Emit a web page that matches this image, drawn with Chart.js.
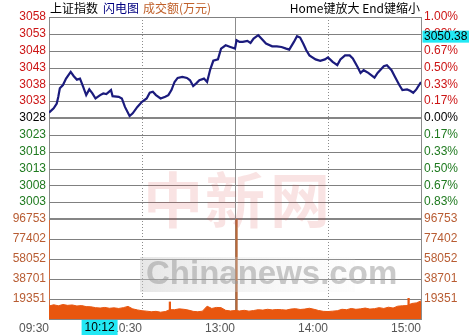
<!DOCTYPE html>
<html>
<head>
<meta charset="utf-8">
<script src="https://cdn.jsdelivr.net/npm/chart.js@4/dist/chart.umd.min.js"></script>
<style>
body{margin:0;background:#fff;}
canvas{display:block;}
</style>
</head>
<body>
<canvas id="myChart" width="469" height="335"></canvas>
<script>
// minutes since 09:30 (120 = 11:30/13:00, 240 = 15:00)
var priceTimes = [
  0,3,5,6,7,9,11,14,16,18,
  20,22,24,26,28,30,33,35,37,40,
  41,45,47,49,52,54,57,60,63,65,
  67,69,72,75,77,79,81,83,86,89,
  91,93,95,97,100,102,104,106,109,111,
  114,117,120,121,123,125,128,130,132,135,
  137,140,144,147,150,153,155,158,160,162,
  164,166,168,172,175,178,180,183,186,188,
  191,194,196,199,201,203,206,210,212,216,
  218,221,223,226,228,231,233,235,237,240
];
var priceValues = [
  3029.6,3030.9,3032.3,3034.3,3036.8,3037.8,3039.7,3041.7,3040.4,3039.4,
  3039.7,3037.3,3034.8,3036.5,3035.3,3033.8,3034.8,3035.3,3035.1,3036.3,
  3034.5,3034.3,3033.8,3031.3,3028.6,3029.4,3031.3,3032.8,3033.8,3035.5,
  3035.8,3034.8,3033.8,3034.3,3034.8,3036.3,3038.7,3039.9,3040.2,3039.9,
  3039.2,3037.5,3038.3,3039.2,3039.7,3038.7,3042.4,3045.0,3045.4,3048.6,
  3049.6,3049.1,3048.6,3051.1,3050.6,3050.6,3050.9,3050.3,3051.6,3052.6,
  3051.6,3050.1,3049.3,3049.3,3049.1,3048.6,3048.3,3050.6,3052.3,3051.9,
  3050.1,3048.1,3046.6,3045.4,3045.0,3045.4,3046.0,3044.7,3043.7,3045.4,
  3046.6,3046.6,3045.7,3043.2,3041.4,3042.2,3041.4,3040.0,3041.4,3043.4,
  3043.7,3042.2,3040.4,3037.8,3036.3,3036.5,3036.1,3035.5,3036.5,3038.7
];

// volume (万元), one value every 3 minutes
var volStep = 3;
var volValues = [
  12500,13800,12800,14000,13200,13600,12600,13000,12000,11800,
  11000,10600,11200,10400,10800,10200,11000,12200,9800,8800,
  8000,7600,7000,7400,6600,7200,9000,9000,9800,9400,
  8600,7400,7000,7600,12400,10200,11200,11000,8400,7800,
  8200,7800,8400,7600,8200,9000,8600,9400,8800,9200,
  9000,8600,9600,10000,9200,9600,10400,9400,8200,7400,
  7200,7600,8000,9400,9000,10200,9400,9800,10600,9600,
  10000,11000,10200,11400,10600,12400,12800,13000,15000,15600,
  17500
];
var spikeTimes = [78, 121, 232];
var spikeValues = [16500, 96753, 20000];

var timeTicks = [0, 60, 120, 180, 240];
var timeLabels = ['09:30', '10:30', '13:00', '14:00', '15:00'];
var priceTicks = [3058,3053,3048,3043,3038,3033,3028,3023,3018,3013,3008,3003,2998];
var priceLabels = ['3058','3053','3048','3043','3038','3033','3028','3023','3018','3013','3008','3003',''];
var pctLabels = ['1.00%','0.83%','0.67%','0.50%','0.33%','0.17%','0.00%','0.17%','0.33%','0.50%','0.67%','0.83%',''];
var volTicks = [96753,77402,58052,38701,19351,0];
var volLabels = ['96753','77402','58052','38701','19351',''];
var prevClose = 3028;
var cursorTime = 42, cursorLabel = '10:12';
var lastPrice = 3050.38;

var ctx = document.getElementById('myChart').getContext('2d');
var font = {family: 'Liberation Sans, Arial, sans-serif', size: 12};
var gridGray = '#8c8c8c';
var volColor = '#e8560f';

function setTicks(values){
    return function(scale){ scale.ticks = values.map(function(v){ return {value: v}; }); };
}
function fixWidth(w){
    return function(scale){ scale.width = w; };
}
function priceColor(c){
    var v = c.tick.value;
    if (v > prevClose) return '#cc1414';
    if (v == prevClose) return '#000000';
    return '#1f7a1f';
}

var priceData = priceTimes.map(function(t, i){ return {x: t, y: priceValues[i]}; });
var volData = volValues.map(function(v, i){ return {x: i * volStep, y: v}; });
var spikeData = spikeTimes.map(function(t, i){ return {x: t, y: spikeValues[i]}; });

var decor = {
    id: 'decor',
    beforeDatasetsDraw: function(chart){
        var c = chart.ctx, a = chart.chartArea, x = chart.scales.x;
        var y = chart.scales.y, yv = chart.scales.yv;
        var w = a.right - a.left;
        c.save();
        c.setLineDash([]);
        // horizontal grid from the price and volume scales
        c.fillStyle = '#808080';
        for (var i = 0; i < priceTicks.length; i++) {
            c.fillRect(a.left, Math.round(y.getPixelForValue(priceTicks[i])), w, 1);
        }
        for (var j = 0; j < volTicks.length; j++) {
            c.fillRect(a.left, Math.round(yv.getPixelForValue(volTicks[j])), w, 1);
        }
        c.strokeStyle = gridGray;
        c.lineWidth = 1;
        [60, 180].forEach(function(t){
            var px = Math.round(x.getPixelForValue(t)) + 0.5;
            c.setLineDash([1, 2]);
            c.beginPath(); c.moveTo(px, a.top); c.lineTo(px, a.bottom); c.stroke();
        });
        c.setLineDash([]);
        var pm = Math.round(x.getPixelForValue(120)) + 0.5;
        c.beginPath(); c.moveTo(pm, a.top); c.lineTo(pm, a.bottom); c.stroke();
        // heavier lines: previous close, price/volume boundary, volume base
        c.fillStyle = '#858585';
        [y.getPixelForValue(prevClose), y.getPixelForValue(2998), yv.getPixelForValue(0)].forEach(function(py){
            c.fillRect(a.left, Math.round(py) - 1, w, 2);
        });
        c.restore();
    },
    afterDatasetsDraw: function(chart){
        var c = chart.ctx;
        c.save();
        // watermark
        c.font = 'bold 60px "Noto Sans CJK SC"';
        c.textBaseline = 'middle';
        c.fillStyle = 'rgba(215,70,70,0.15)';
        c.fillText('中', 143, 200);
        c.fillText('新', 205, 200);
        c.fillText('网', 270, 200);
        var g = c.createLinearGradient(140, 0, 355, 0);
        g.addColorStop(0, 'rgba(200,200,200,0.45)');
        g.addColorStop(1, 'rgba(235,235,235,0.1)');
        c.fillStyle = g;
        c.fillRect(140, 257, 215, 35);
        c.font = 'bold 33px "Liberation Sans", Arial, sans-serif';
        c.fillStyle = 'rgba(150,150,150,0.5)';
        c.fillText('Chinanews.com', 146, 275);
        c.restore();
    },
    afterDraw: function(chart){
        var c = chart.ctx, x = chart.scales.x, y = chart.scales.y, a = chart.chartArea;
        c.save();
        c.textBaseline = 'middle';
        c.font = '12px "Noto Sans CJK SC"';
        c.fillStyle = '#000000'; c.fillText('上证指数', 50, 8);
        c.fillStyle = '#000080'; c.fillText('闪电图', 103, 8);
        c.fillStyle = '#c0602a'; c.fillText('成交额(万元)', 143, 8);
        c.fillStyle = '#000000'; c.textAlign = 'right'; c.fillText('Home键放大 End键缩小', 420, 8);
        // cursor time box
        c.font = '12px "Liberation Sans", Arial, sans-serif';
        var px = x.getPixelForValue(cursorTime);
        c.fillStyle = '#22e8f4';
        c.fillRect(px - 32.5, a.bottom + 1, 36, 16);
        c.fillStyle = '#000000';
        c.textAlign = 'center';
        c.fillText(cursorLabel, px - 14.5, 327.5);
        // last price box
        var py = y.getPixelForValue(lastPrice);
        c.fillStyle = '#22e8f4';
        c.fillRect(a.right + 1.5, py - 12, 48, 12);
        c.fillStyle = '#000000';
        c.textAlign = 'left';
        c.fillText(lastPrice.toFixed(2), a.right + 3, py - 5.5);
        c.restore();
    }
};

var myChart = new Chart(ctx, {
    type: 'line',
    data: {
        datasets: [{
            label: 'price',
            data: priceData,
            xAxisID: 'x', yAxisID: 'y',
            borderColor: '#1b1b7d',
            borderWidth: 2.2,
            pointRadius: 0,
            tension: 0
        }, {
            label: 'volume',
            data: volData,
            xAxisID: 'x', yAxisID: 'yv',
            borderColor: volColor,
            backgroundColor: volColor,
            borderWidth: 1,
            pointRadius: 0,
            fill: 'origin',
            tension: 0
        }, {
            type: 'bar',
            label: 'spikes',
            data: spikeData,
            xAxisID: 'x', yAxisID: 'yv',
            backgroundColor: [volColor, '#b8693a', volColor],
            barThickness: 1.6,
            grouped: false
        }]
    },
    options: {
        responsive: false,
        animation: false,
        events: [],
        layout: {padding: {top: 17, left: 0, right: 0, bottom: 0}},
        plugins: {legend: {display: false}, tooltip: {enabled: false}},
        scales: {
            x: {
                type: 'linear', position: 'bottom', min: 0, max: 240,
                offset: false,
                afterBuildTicks: setTicks(timeTicks),
                afterFit: function(s){ s.height = 16; },
                ticks: {
                    autoSkip: false, maxRotation: 0, align: 'end', padding: 2,
                    color: '#555555', font: font,
                    callback: function(v){ return timeLabels[timeTicks.indexOf(v)]; }
                },
                grid: {display: false, drawTicks: false, offset: false},
                border: {color: gridGray}
            },
            yv: {
                type: 'linear', position: 'left', stack: 'L', stackWeight: 100,
                min: 0, max: 96753,
                afterBuildTicks: setTicks(volTicks),
                afterFit: fixWidth(49),
                ticks: {
                    autoSkip: false, color: '#b85c32', font: font, padding: 3,
                    callback: function(v){ return volLabels[volTicks.indexOf(v)]; }
                },
                grid: {display: false, drawTicks: false},
                border: {color: '#cf6a3c'}
            },
            y: {
                type: 'linear', position: 'left', stack: 'L', stackWeight: 202,
                min: 2998, max: 3058,
                afterBuildTicks: setTicks(priceTicks),
                afterFit: fixWidth(49),
                ticks: {
                    autoSkip: false, color: priceColor, font: font, padding: 3,
                    callback: function(v){ return priceLabels[priceTicks.indexOf(v)]; }
                },
                grid: {display: false, drawTicks: false},
                border: {color: gridGray}
            },
            yp: {
                type: 'linear', position: 'right', stack: 'R', stackWeight: 202,
                min: 2998, max: 3058,
                afterBuildTicks: setTicks(priceTicks),
                afterFit: fixWidth(48),
                ticks: {
                    autoSkip: false, color: priceColor, font: font, padding: 3,
                    callback: function(v){ return pctLabels[priceTicks.indexOf(v)]; }
                },
                grid: {display: false, drawTicks: false},
                border: {color: gridGray}
            },
            yvr: {
                type: 'linear', position: 'right', stack: 'R', stackWeight: 100,
                min: 0, max: 96753,
                afterBuildTicks: setTicks(volTicks),
                afterFit: fixWidth(48),
                ticks: {
                    autoSkip: false, color: '#b85c32', font: font, padding: 3,
                    callback: function(v){ return volLabels[volTicks.indexOf(v)]; }
                },
                grid: {display: false, drawTicks: false},
                border: {color: gridGray}
            }
        }
    },
    plugins: [decor]
});
</script>
</body>
</html>
